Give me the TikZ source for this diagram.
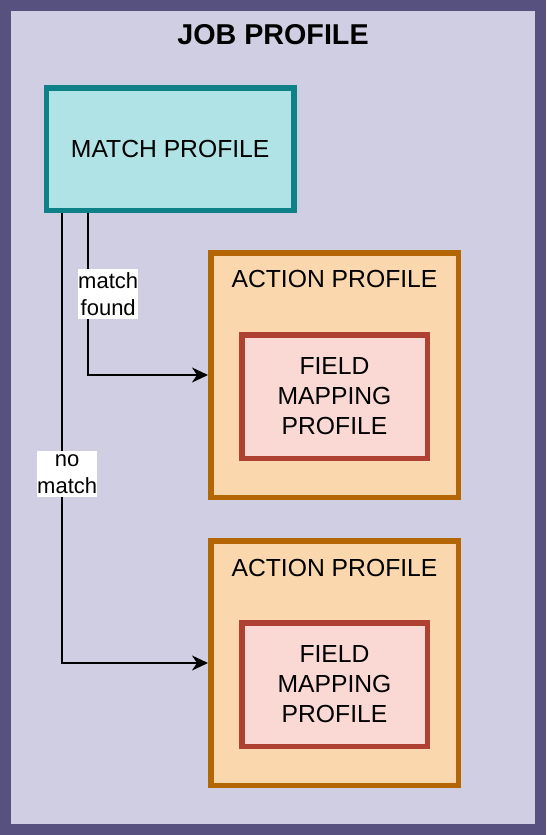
\documentclass[tikz,border=0pt]{standalone}
\usepackage{fontspec}
\setmainfont{Liberation Sans}
\usetikzlibrary{arrows.meta}

\definecolor{jobfill}{HTML}{D0CEE2}
\definecolor{jobline}{HTML}{56517E}
\definecolor{matchfill}{HTML}{B0E3E6}
\definecolor{matchline}{HTML}{0E8088}
\definecolor{actionfill}{HTML}{FAD7AC}
\definecolor{actionline}{HTML}{B46504}
\definecolor{fieldfill}{HTML}{FAD9D5}
\definecolor{fieldline}{HTML}{AE4132}

\begin{document}
\begin{tikzpicture}[x=1pt, y=-1pt,
    every node/.style={font=\fontsize{24.7}{30}\selectfont, align=center},
    profilebox/.style={draw, line width=5.5pt, inner sep=0pt},
    matchbox/.style={profilebox, draw=matchline, fill=matchfill, minimum width=247.5pt, minimum height=122.5pt},
    actionbox/.style={profilebox, draw=actionline, fill=actionfill, minimum width=247.5pt, minimum height=244.5pt},
    fieldbox/.style={profilebox, draw=fieldline, fill=fieldfill, minimum width=185.5pt, minimum height=123.5pt},
    link/.style={line width=2pt, -{Stealth[length=16pt, width=15pt, inset=5pt]}},
    tag/.style={fill=white, inner xsep=0pt, inner ysep=3pt, font=\fontsize{22}{27.5}\selectfont}]

    % Job profile frame
    \useasboundingbox (0,0) rectangle (546,835);
    \draw[jobline, fill=jobfill, line width=11pt] (5.5,5.5) rectangle (540.5,829.5);
    \node[font=\bfseries\fontsize{28.7}{34}\selectfont] (title) at (273,35) {JOB PROFILE};

    % Match profile
    \node[matchbox] (match) at (170.2,149.2) {MATCH PROFILE};

    % Action profiles with field mappings
    \node[actionbox] (act1) at (334.5,375) {};
    \node[actionbox] (act2) at (334.5,663) {};
    \node (act1title) at ([yshift=-29pt]act1.north) {ACTION PROFILE};
    \node (act2title) at ([yshift=-29.5pt]act2.north) {ACTION PROFILE};
    \node[fieldbox] (field1) at (334.5,396.5) {FIELD\\MAPPING\\PROFILE};
    \node[fieldbox] (field2) at (334.5,684.5) {FIELD\\MAPPING\\PROFILE};

    % Links
    \coordinate (found) at ([xshift=44.5pt]match.south west);
    \coordinate (nomatch) at ([xshift=18.5pt]match.south west);
    \draw[link] (found) |- node[tag, pos=0.25, xshift=20pt] (foundtag) {match\\found} (act1.west);
    \draw[link] (nomatch) |- node[tag, pos=0.29, xshift=5pt] (nomatchtag) {no\\match} (act2.west);
\end{tikzpicture}
\end{document}
